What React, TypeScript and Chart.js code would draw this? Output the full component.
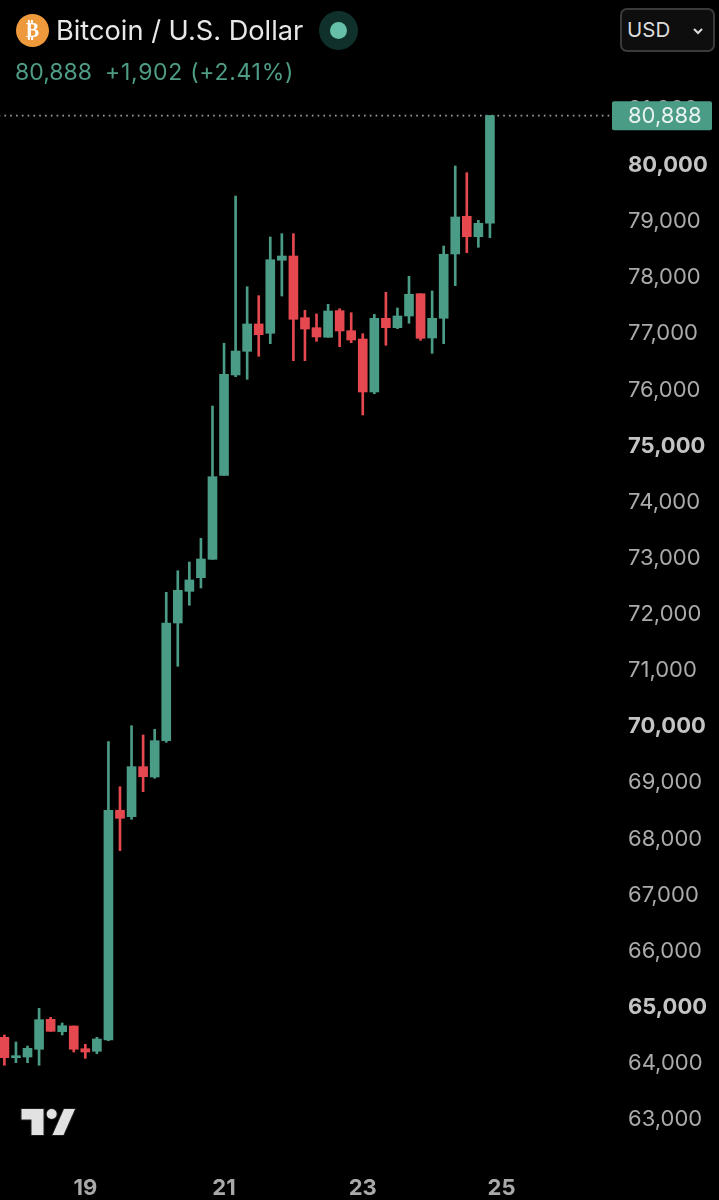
import React, { useEffect, useRef } from "react";
import { Chart, registerables } from "chart.js";

Chart.register(...registerables);

const candleIndex = [0,1,2,3,4,5,6,7,8,9,10,11,12,13,14,15,16,17,18,19,20,21,22,23,24,25,26,27,28,29,30,31,32,33,34,35,36,37,38,39,40,41,42];
const opens = [64464,64101,64113,64251,64785,64564,64666,64261,64215,64416,68510,68396,69287,69103,69750,71847,72412,72655,72982,74479,76267,76689,77176,77010,78311,78387,77288,77110,76939,77413,77056,76908,75964,77277,77110,77318,77715,76926,77277,78423,79095,78731,78970];
const closes = [64101,64137,64268,64778,64571,64671,64251,64202,64434,68510,68367,69287,69108,69750,71847,72430,72614,72988,74454,76279,76694,77176,76985,78321,78387,77259,77086,76944,77407,77051,76890,75964,77277,77110,77318,77705,76921,77277,78418,79082,78731,78970,80888];
const highs = [64506,64381,64309,64981,64821,64719,64666,64340,64464,69732,68930,70017,69852,69953,72394,72779,72934,73357,75714,76832,79456,77840,77680,78726,78785,78785,77420,77354,77527,77448,77377,77003,77348,77740,77461,78025,77715,77764,78565,79991,79872,79023,80888];
const lows = [63966,64012,64012,63966,64571,64506,64202,64090,64172,64404,67790,68349,68841,69080,69721,71076,72163,72471,72982,74479,76236,76190,76600,76824,77674,76522,76522,76867,76939,76771,76842,75554,75933,76796,77092,77188,76885,76653,76824,77858,78446,78542,78713];

const priceTicks = [63000,64000,65000,66000,67000,68000,69000,70000,71000,72000,73000,74000,75000,76000,77000,78000,79000,80000,81000];
const boldPrices = [65000,70000,75000,80000];
const dayTickIndex = [7,19,31,43];
const dayTickLabels = ["19","21","23","25"];
const lastPrice = 80888;
const lastPriceLabel = "80,888";

const GREEN = "#4b9c87";
const RED = "#e5484f";

export default function App() {
  const ref = useRef<HTMLCanvasElement>(null);

  useEffect(() => {
    document.body.style.margin = "0";
    document.body.style.background = "#000";
    const up = opens.map((o, i) => closes[i] >= o);
    const colors = up.map((u) => (u ? GREEN : RED));

    const priceTag = {
      id: "priceTag",
      afterDraw(c: any) {
        const y = c.scales.y.getPixelForValue(lastPrice);
        const ctx = c.ctx;
        ctx.save();
        ctx.fillStyle = GREEN;
        ctx.beginPath();
        ctx.roundRect(612, y - 14.5, 100, 29, 2);
        ctx.fill();
        ctx.fillStyle = "#e8f2ef";
        ctx.font = "22px Inter";
        ctx.textAlign = "left";
        ctx.textBaseline = "middle";
        ctx.fillText(lastPriceLabel, 628, y + 1);
        ctx.restore();
      },
    };

    const chart = new Chart(ref.current!, {
      type: "bar",
      data: {
        datasets: [
          {
            type: "line",
            data: [
              { x: -1, y: lastPrice },
              { x: 53, y: lastPrice },
            ],
            borderColor: "#a0a0a0",
            borderWidth: 1.8,
            borderDash: [1.6, 4.2],
            pointRadius: 0,
            order: 3,
          },
          {
            type: "bar",
            data: candleIndex.map((x, i) => ({ x, y: [lows[i], highs[i]] })),
            backgroundColor: colors,
            barThickness: 2,
            grouped: false,
            order: 2,
          },
          {
            type: "bar",
            data: candleIndex.map((x, i) => ({ x, y: [opens[i], closes[i]] })),
            backgroundColor: colors,
            barThickness: 9,
            grouped: false,
            order: 1,
          },
        ] as any,
      },
      options: {
        responsive: false,
        animation: false,
        layout: { padding: 0 },
        plugins: { legend: { display: false }, tooltip: { enabled: false } },
        scales: {
          x: {
            type: "linear",
            min: -0.38,
            max: 52.56,
            offset: false,
            grid: { display: false, drawTicks: false },
            border: { display: false },
            afterBuildTicks(s: any) {
              s.ticks = dayTickIndex.map((value) => ({ value }));
            },
            afterFit(s: any) {
              s.height = 45;
              s.paddingLeft = 0;
              s.paddingRight = 0;
            },
            ticks: {
              autoSkip: false,
              maxRotation: 0,
              padding: 20,
              color: "#a9a9a9",
              font: { family: "Inter", size: 22, weight: 700 },
              callback: (v: any) => dayTickLabels[dayTickIndex.indexOf(v)] ?? "",
            },
          },
          y: {
            position: "right",
            min: 62367,
            max: 82949,
            grid: { display: false, drawTicks: false },
            border: { display: false },
            afterBuildTicks(s: any) {
              s.ticks = priceTicks.map((value) => ({ value }));
            },
            afterFit(s: any) {
              s.width = 107;
              s.paddingTop = 0;
              s.paddingBottom = 0;
            },
            ticks: {
              padding: 16,
              autoSkip: false,
              color: (c: any) => (boldPrices.includes(c.tick.value) ? "#c4c4c4" : "#ababab"),
              font: (c: any) => ({
                family: "Inter",
                size: 22,
                weight: boldPrices.includes(c.tick?.value) ? 700 : 400,
              }),
              callback: (v: any) => Number(v).toLocaleString("en-US"),
            },
          },
        },
      },
      plugins: [priceTag],
    } as any);
    return () => chart.destroy();
  }, []);

  const abs = (o: React.CSSProperties): React.CSSProperties => ({ position: "absolute", whiteSpace: "nowrap", ...o });

  return (
    <div style={{ position: "relative", width: 719, height: 1200, background: "#000", overflow: "hidden", fontFamily: "Inter" }}>
      <canvas ref={ref} width={719} height={1200} style={{ display: "block", width: 719, height: 1200 }} />
      <div style={abs({ left: 16, top: 14, width: 33, height: 33, borderRadius: "50%", background: "#ee9a3c", color: "#fff", fontFamily: "DejaVu Sans", fontWeight: 700, fontSize: 20, lineHeight: "33px", textAlign: "center" })}>₿</div>
      <div style={abs({ left: 56, top: 14, fontSize: 27.2, lineHeight: "33px", color: "#e8e8e8" })}>Bitcoin / U.S. Dollar</div>
      <div style={abs({ left: 319, top: 11, width: 39, height: 39, borderRadius: "50%", background: "#10302c" })} />
      <div style={abs({ left: 330, top: 22, width: 17, height: 17, borderRadius: "50%", background: "#66bfa9" })} />
      <div style={abs({ left: 15, top: 58, fontSize: 23, lineHeight: "28px", color: "#4e9c85" })}>80,888</div>
      <div style={abs({ left: 105, top: 58, fontSize: 23, letterSpacing: 0.7, lineHeight: "28px", color: "#4e9c85" })}>+1,902 (+2.41%)</div>
      <div style={abs({ left: 620, top: 8, width: 95, height: 44, boxSizing: "border-box", border: "2px solid #3a3a3a", borderRadius: 7, background: "#0e0e0e" })} />
      <div style={abs({ left: 627, top: 16, fontSize: 20.5, lineHeight: "28px", color: "#dcdcdc" })}>USD</div>
      <svg style={{ position: "absolute", left: 0, top: 0, pointerEvents: "none" }} width={719} height={1200}>
        <polyline points="694,29 698,33 702,29" fill="none" stroke="#dcdcdc" strokeWidth={2} />
        <g fill="#e2e2e2" stroke="#1c1c1c" strokeWidth={2} paintOrder="stroke">
          <polygon points="21.5,1109 43.5,1109 43.5,1135 31.5,1135 31.5,1119.5 21.5,1119.5" />
          <circle cx={51.7} cy={1114} r={5} />
          <polygon points="75,1109 63.5,1135 52.5,1135 64,1109" />
        </g>
      </svg>
    </div>
  );
}
